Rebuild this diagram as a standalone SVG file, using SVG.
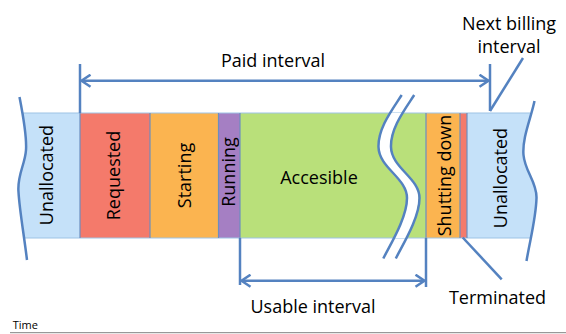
<svg xmlns="http://www.w3.org/2000/svg" width="566" height="334" viewBox="0 0 566 334">
  <defs>
    <style>
      .lbl { font-family: "Open Sans", "Noto Sans", sans-serif; font-size: 18px; fill: #000; }
      .small { font-family: "Open Sans", "Noto Sans", sans-serif; font-size: 11px; fill: #000; }
      .ln { fill: none; stroke: #5482c0; stroke-width: 2.5; }
      .sep { stroke: #6c8ebf; stroke-width: 1.2; }
      .outline { stroke: #9dc3e6; stroke-width: 1.2; fill: none; }
    </style>
    <marker id="chev" viewBox="-11 -7 13 14" refX="0" refY="0" markerWidth="13" markerHeight="14" markerUnits="userSpaceOnUse" orient="auto-start-reverse">
      <path d="M-9,-6 L0,0 L-9,6" fill="none" stroke="#5482c0" stroke-width="2.5" stroke-linejoin="miter"/>
    </marker>
    <clipPath id="barclip">
      <rect x="0" y="113" width="566" height="125"/>
    </clipPath>
  </defs>

  <rect width="566" height="334" fill="#fff"/>

  <!-- Segments -->
  <g id="unallocated-left">
    <rect x="14" y="113" width="66" height="125" fill="#c5e1f9"/>
    <path d="M0,90 L19.5,97 C22,110 27,135 26,150 C25,165 17,175 18.5,192 C19.5,210 24,235 27,260 L0,260 Z" fill="#fff"/>
    <text class="lbl" transform="translate(53.3,175) rotate(-90)" text-anchor="middle">Unallocated</text>
  </g>
  <g id="requested">
    <rect x="80" y="113" width="70" height="125" fill="#f47a6b"/>
    <text class="lbl" transform="translate(119.6,175.5) rotate(-90)" text-anchor="middle">Requested</text>
  </g>
  <g id="starting">
    <rect x="150" y="113" width="68.5" height="125" fill="#fbb450"/>
    <text class="lbl" transform="translate(190.5,175.5) rotate(-90)" text-anchor="middle">Starting</text>
  </g>
  <g id="running">
    <rect x="218.5" y="113" width="21.5" height="125" fill="#a57fc3"/>
    <text class="lbl" transform="translate(234.6,172) rotate(-90)" text-anchor="middle">Running</text>
  </g>
  <g id="accesible">
    <rect x="240" y="113" width="186" height="125" fill="#b9e07a"/>
    <text class="lbl" x="319" y="184" text-anchor="middle">Accesible</text>
  </g>
  <g id="shutting-down">
    <rect x="426" y="113" width="34" height="125" fill="#fbb450"/>
    <text class="lbl" transform="translate(451,175.5) rotate(-90)" text-anchor="middle">Shutting down</text>
  </g>
  <g id="terminated-seg">
    <rect x="460" y="113" width="7" height="125" fill="#f47a6b"/>
  </g>
  <g id="unallocated-right">
    <rect x="467" y="113" width="75" height="125" fill="#c5e1f9"/>
    <path d="M566,90 L534.5,101 C531,118 522,138 523.5,155 C525,172 537,182 536.5,198 C536,218 530,240 526.5,261 L566,261 Z" fill="#fff"/>
    <text class="lbl" transform="translate(507,178) rotate(-90)" text-anchor="middle">Unallocated</text>
  </g>

  <!-- bar outline and separators -->
  <g id="bar-outline">
    <line class="outline" x1="22.5" y1="113" x2="530" y2="113"/>
    <line class="outline" x1="23.5" y1="238" x2="531" y2="238"/>
    <line class="sep" x1="80" y1="113" x2="80" y2="238"/>
    <line class="sep" x1="150" y1="113" x2="150" y2="238"/>
    <line class="sep" x1="218.5" y1="113" x2="218.5" y2="238"/>
    <line class="sep" x1="240" y1="113" x2="240" y2="238"/>
    <line class="sep" x1="426" y1="113" x2="426" y2="238"/>
    <line class="sep" x1="460" y1="113" x2="460" y2="238"/>
    <line class="sep" x1="467" y1="113" x2="467" y2="238"/>
  </g>

  <!-- break -->
  <g id="break">
    <path d="M408,95 C398,110 384,128 384.5,147 C385,168 413,178 413,198 C413,218 396,245 389.5,258.5" fill="none" stroke="#fff" stroke-width="11" clip-path="url(#barclip)"/>
    <path class="ln" d="M401.7,95 C392,110 378,128 378.5,147 C379,168 407,178 407,198 C407,218 390,245 383.3,258.5"/>
    <path class="ln" d="M414.2,95 C404.5,110 390.5,128 391,147 C391.5,168 419.5,178 419.5,198 C419.5,218 402.5,245 395.8,258.5"/>
  </g>

  <!-- edges -->
  <g id="edges">
    <path class="ln" d="M19.5,97 C22,110 27,135 26,150 C25,165 17,175 18.5,192 C19.5,210 24,235 27,260"/>
    <path class="ln" d="M534.5,101 C531,118 522,138 523.5,155 C525,172 537,182 536.5,198 C536,218 530,240 526.5,261"/>
  </g>

  <!-- connectors -->
  <g id="connectors">
    <line class="ln" x1="80" y1="64" x2="80" y2="113"/>
    <line class="ln" x1="490" y1="64" x2="490" y2="111"/>
    <line class="ln" x1="81.5" y1="80.7" x2="488.5" y2="80.7" marker-start="url(#chev)" marker-end="url(#chev)"/>
    <line class="ln" x1="490" y1="111" x2="523" y2="58"/>
    <line class="ln" x1="240" y1="238" x2="240" y2="285"/>
    <line class="ln" x1="426" y1="238" x2="426" y2="287"/>
    <line class="ln" x1="241.5" y1="280.7" x2="424.5" y2="280.7" marker-start="url(#chev)" marker-end="url(#chev)"/>
    <line class="ln" x1="462.7" y1="237.5" x2="501.7" y2="279.3"/>
  </g>

  <!-- labels -->
  <g id="labels">
    <text class="lbl" x="273" y="66.5" text-anchor="middle">Paid interval</text>
    <text class="lbl" x="509" y="29.5" text-anchor="middle">Next billing</text>
    <text class="lbl" x="509" y="53.3" text-anchor="middle">interval</text>
    <text class="lbl" x="313" y="312.7" text-anchor="middle">Usable interval</text>
    <text class="lbl" x="497.5" y="304.3" text-anchor="middle">Terminated</text>
  </g>

  <g id="time-axis">
    <line x1="10" y1="332.7" x2="566" y2="332.7" stroke="#808080" stroke-width="1"/>
    <text class="small" x="12.7" y="329.3">Time</text>
  </g>
</svg>
